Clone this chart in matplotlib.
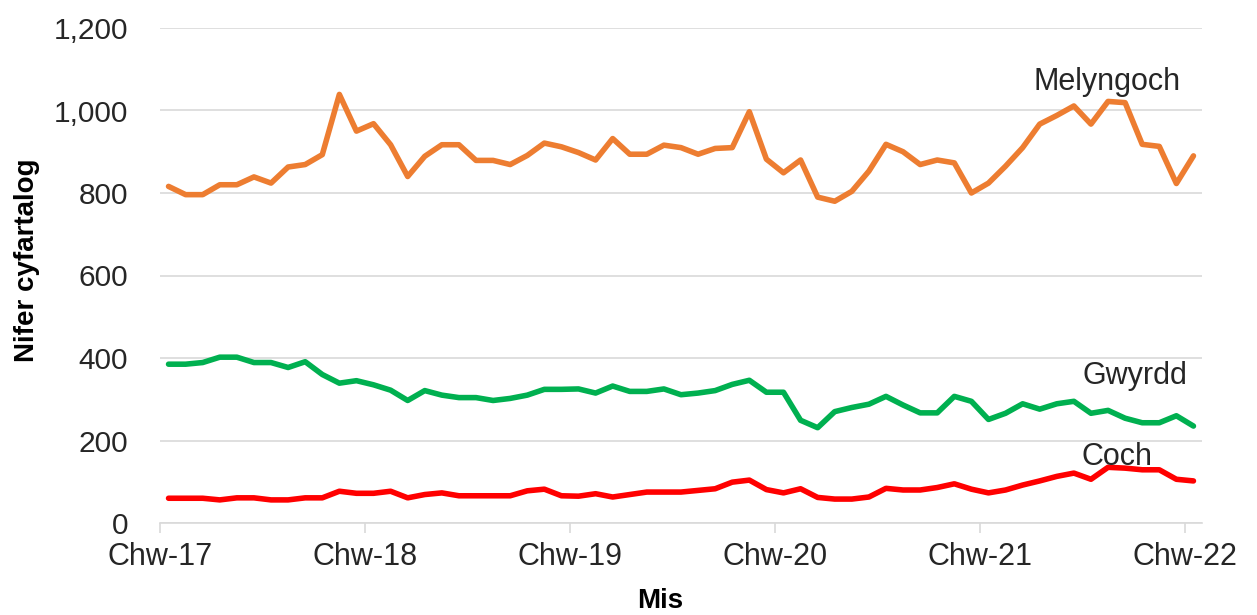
import matplotlib
matplotlib.use("Agg")
import matplotlib.pyplot as plt

plt.rcParams['font.family'] = ['Liberation Sans', 'DejaVu Sans']

months = list(range(61))  # Feb 2017 .. Feb 2022
tick_labels = ["Chw-17", "Chw-18", "Chw-19", "Chw-20", "Chw-21", "Chw-22"]

melyngoch = [816, 796, 796, 820, 820, 839, 824, 863, 869, 893,
             1039, 950, 968, 917, 840, 889, 917, 917, 879, 879,
             869, 891, 921, 912, 898, 880, 932, 894, 894, 916,
             910, 894, 908, 910, 997, 882, 849, 880, 790, 780,
             804, 853, 918, 900, 869, 880, 873, 800, 824, 865,
             910, 967, 988, 1011, 967, 1022, 1019, 918, 913, 823,
             890]

gwyrdd = [385, 385, 389, 402, 402, 389, 389, 377, 391, 360,
          339, 345, 335, 322, 297, 321, 310, 304, 304, 297,
          302, 310, 324, 324, 325, 315, 332, 319, 319, 325,
          311, 315, 321, 336, 346, 317, 317, 249, 231, 270,
          280, 288, 307, 286, 267, 267, 307, 295, 251, 266,
          289, 276, 289, 295, 266, 273, 254, 243, 243, 260,
          235]

coch = [60, 60, 60, 56, 61, 61, 56, 56, 61, 61,
        77, 72, 72, 77, 61, 69, 73, 66, 66, 66,
        66, 78, 82, 66, 65, 71, 63, 69, 75, 75,
        75, 79, 83, 99, 104, 81, 73, 83, 62, 58,
        58, 63, 84, 80, 80, 86, 95, 82, 73, 80,
        92, 102, 113, 121, 106, 135, 133, 129, 129, 106,
        102]

W, H = 1257, 615
fig = plt.figure(figsize=(W / 100, H / 100), dpi=100)
ax = fig.add_axes([160 / W, 1 - 523 / H, (1202 - 160) / W, (523 - 28) / H])

lw = 4.0
ax.plot(months, melyngoch, color='#ED7D31', lw=lw, solid_joinstyle='round', solid_capstyle='round', zorder=3)
ax.plot(months, gwyrdd, color='#00B050', lw=lw, solid_joinstyle='round', solid_capstyle='round', zorder=3)
ax.plot(months, coch, color='#FF0000', lw=lw, solid_joinstyle='round', solid_capstyle='round', zorder=3)

ax.set_xlim(-0.5, 60.5)
ax.set_ylim(0, 1200)
ax.set_yticks(range(0, 1201, 200))
ax.set_yticklabels([f"{v:,}" for v in range(0, 1201, 200)])
ax.set_xticks([-0.5 + 12 * k for k in range(len(tick_labels))])
ax.set_xticklabels(tick_labels)

ax.grid(axis='y', color='#D9D9D9', lw=1.2, zorder=0)
for s in ['top', 'right', 'left']:
    ax.spines[s].set_visible(False)
ax.spines['bottom'].set_color('#D9D9D9')
ax.spines['bottom'].set_linewidth(1.2)

tick_color = '#262626'
ax.tick_params(axis='y', length=0, pad=23, labelsize=21.5, labelcolor=tick_color)
ax.tick_params(axis='x', length=7, width=1.2, color='#D9D9D9', pad=7, labelsize=22, labelcolor=tick_color)

ax.text(54.95, 1068, "Melyngoch", fontsize=22, color=tick_color, ha='center', va='center')
ax.text(56.6, 356, "Gwyrdd", fontsize=22, color=tick_color, ha='center', va='center')
ax.text(55.5, 161, "Coch", fontsize=22, color=tick_color, ha='center', va='center')

fig.text(27 / W, 1 - 260 / H, "Nifer cyfartalog", rotation=90, fontsize=20,
         fontweight='bold', ha='center', va='center', color='black')
fig.text(660 / W, 1 - 601 / H, "Mis", fontsize=20, fontweight='bold',
         ha='center', va='center', color='black')

fig.savefig("out.png", dpi=100, facecolor='white')
